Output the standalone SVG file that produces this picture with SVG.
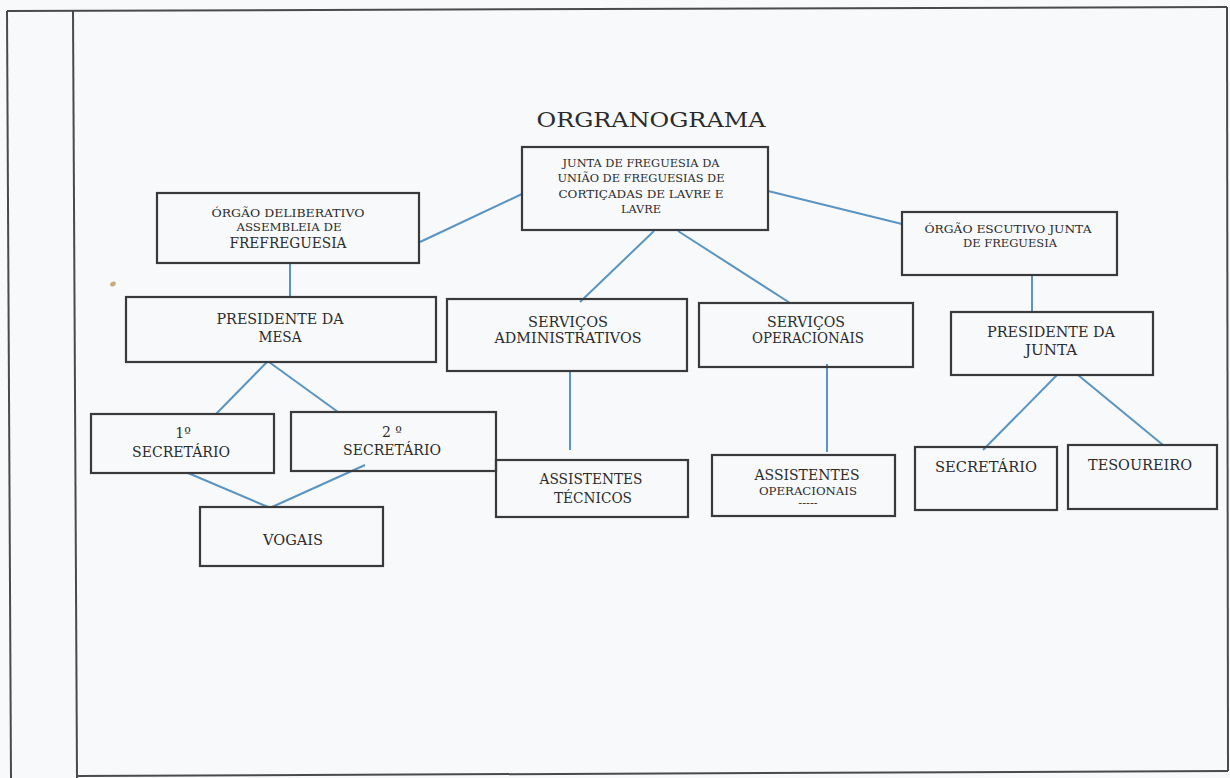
<svg xmlns="http://www.w3.org/2000/svg" width="1230" height="778" viewBox="0 0 1230 778">
<style>
.box{fill:none;stroke:#3a3a3a;stroke-width:2.2}
.frame{fill:none;stroke:#4a4a4a;stroke-width:2}
.con{stroke:#5a94c2;stroke-width:2;fill:none}
text{font-family:'DejaVu Serif','Liberation Serif',serif;fill:#2b2b2b;text-anchor:middle}
.s12{font-size:11.5px}
.s16{font-size:14px}
</style>
<rect x="0" y="0" width="1230" height="778" fill="#f8f9fb"/>
<g id="frame">
<line class="frame" x1="7" y1="11" x2="1227" y2="7"/>
<line class="frame" x1="7" y1="11" x2="11" y2="778"/>
<line class="frame" x1="73" y1="11" x2="77" y2="778"/>
<line class="frame" x1="1227" y1="7" x2="1228" y2="771"/>
<line class="frame" x1="77" y1="776" x2="1228" y2="771"/>
<ellipse cx="113" cy="284" rx="3" ry="2.2" fill="#c9a97a" transform="rotate(-30 113 284)"/>
</g>
<g id="title"><text x="651" y="127" style="font-size:21px" textLength="229" lengthAdjust="spacingAndGlyphs">ORGRANOGRAMA</text></g>
<g id="connectors">
<line class="con" x1="522" y1="194" x2="420" y2="242"/>
<line class="con" x1="768" y1="191" x2="902" y2="224"/>
<line class="con" x1="654" y1="231" x2="580" y2="302"/>
<line class="con" x1="678" y1="231" x2="790" y2="303"/>
<line class="con" x1="290" y1="263" x2="290" y2="297"/>
<line class="con" x1="267" y1="362" x2="216" y2="414"/>
<line class="con" x1="269" y1="362" x2="338" y2="412"/>
<line class="con" x1="188" y1="473" x2="268" y2="507"/>
<line class="con" x1="365" y1="465" x2="272" y2="507"/>
<line class="con" x1="570" y1="371" x2="570" y2="450"/>
<line class="con" x1="827" y1="364" x2="827" y2="452"/>
<line class="con" x1="1032" y1="275" x2="1032" y2="311"/>
<line class="con" x1="1057" y1="375" x2="983" y2="450"/>
<line class="con" x1="1078" y1="375" x2="1163" y2="445"/>
</g>
<g id="junta">
<rect class="box" x="522" y="147" width="246" height="83"/>
<text class="s12" x="641" y="167" textLength="157" lengthAdjust="spacingAndGlyphs">JUNTA DE FREGUESIA DA</text>
<text class="s12" x="641" y="182" textLength="167" lengthAdjust="spacingAndGlyphs">UNIÃO DE FREGUESIAS DE</text>
<text class="s12" x="641" y="198" textLength="165" lengthAdjust="spacingAndGlyphs">CORTIÇADAS DE LAVRE E</text>
<text class="s12" x="641" y="213" textLength="40" lengthAdjust="spacingAndGlyphs">LAVRE</text>
</g>
<g id="deliberativo">
<rect class="box" x="157" y="193" width="262" height="70"/>
<text class="s12" x="288" y="217" textLength="153" lengthAdjust="spacingAndGlyphs">ÓRGÃO DELIBERATIVO</text>
<text class="s12" x="289" y="231" textLength="105" lengthAdjust="spacingAndGlyphs">ASSEMBLEIA DE</text>
<text x="288" y="248" style="font-size:14.5px" textLength="117" lengthAdjust="spacingAndGlyphs">FREFREGUESIA</text>
</g>
<g id="presidente-mesa">
<rect class="box" x="126" y="297" width="310" height="65"/>
<text class="s16" x="280" y="324" textLength="127" lengthAdjust="spacingAndGlyphs">PRESIDENTE DA</text>
<text class="s16" x="280" y="342" textLength="43" lengthAdjust="spacingAndGlyphs">MESA</text>
</g>
<g id="secretario1">
<rect class="box" x="91" y="414" width="183" height="59"/>
<text class="s16" x="183" y="438">1º</text>
<text class="s16" x="181" y="457" textLength="98" lengthAdjust="spacingAndGlyphs">SECRETÁRIO</text>
</g>
<g id="secretario2">
<rect class="box" x="291" y="412" width="205" height="59"/>
<text class="s16" x="392" y="437">2 º</text>
<text class="s16" x="392" y="455" textLength="98" lengthAdjust="spacingAndGlyphs">SECRETÁRIO</text>
</g>
<g id="vogais">
<rect class="box" x="200" y="507" width="183" height="59"/>
<text class="s16" x="293" y="545" textLength="60" lengthAdjust="spacingAndGlyphs">VOGAIS</text>
</g>
<g id="servicos-admin">
<rect class="box" x="447" y="299" width="240" height="72"/>
<text class="s16" x="568" y="327" textLength="80" lengthAdjust="spacingAndGlyphs">SERVIÇOS</text>
<text class="s16" x="568" y="343" textLength="147" lengthAdjust="spacingAndGlyphs">ADMINISTRATIVOS</text>
</g>
<g id="servicos-oper">
<rect class="box" x="699" y="303" width="214" height="64"/>
<text class="s16" x="806" y="327" textLength="78" lengthAdjust="spacingAndGlyphs">SERVIÇOS</text>
<text class="s16" x="808" y="343" textLength="112" lengthAdjust="spacingAndGlyphs">OPERACIONAIS</text>
</g>
<g id="assist-tecnicos">
<rect class="box" x="496" y="460" width="192" height="57"/>
<text class="s16" x="591" y="484" textLength="103" lengthAdjust="spacingAndGlyphs">ASSISTENTES</text>
<text class="s16" x="593" y="503" textLength="78" lengthAdjust="spacingAndGlyphs">TÉCNICOS</text>
</g>
<g id="assist-oper">
<rect class="box" x="712" y="455" width="183" height="61"/>
<text class="s16" x="807" y="480" textLength="105" lengthAdjust="spacingAndGlyphs">ASSISTENTES</text>
<text class="s12" x="808" y="495" textLength="98" lengthAdjust="spacingAndGlyphs">OPERACIONAIS</text>
<text class="s12" x="808" y="507">-----</text>
</g>
<g id="executivo">
<rect class="box" x="902" y="212" width="215" height="63"/>
<text class="s12" x="1008" y="233" textLength="167" lengthAdjust="spacingAndGlyphs">ÓRGÃO ESCUTIVO JUNTA</text>
<text class="s12" x="1010" y="247" textLength="94" lengthAdjust="spacingAndGlyphs">DE FREGUESIA</text>
</g>
<g id="presidente-junta">
<rect class="box" x="951" y="312" width="202" height="63"/>
<text class="s16" x="1051" y="337" textLength="128" lengthAdjust="spacingAndGlyphs">PRESIDENTE DA</text>
<text class="s16" x="1051" y="355" textLength="52" lengthAdjust="spacingAndGlyphs">JUNTA</text>
</g>
<g id="secretario">
<rect class="box" x="915" y="447" width="142" height="63"/>
<text class="s16" x="986" y="472" textLength="102" lengthAdjust="spacingAndGlyphs">SECRETÁRIO</text>
</g>
<g id="tesoureiro">
<rect class="box" x="1068" y="445" width="149" height="64"/>
<text class="s16" x="1140" y="470" textLength="104" lengthAdjust="spacingAndGlyphs">TESOUREIRO</text>
</g>
</svg>
